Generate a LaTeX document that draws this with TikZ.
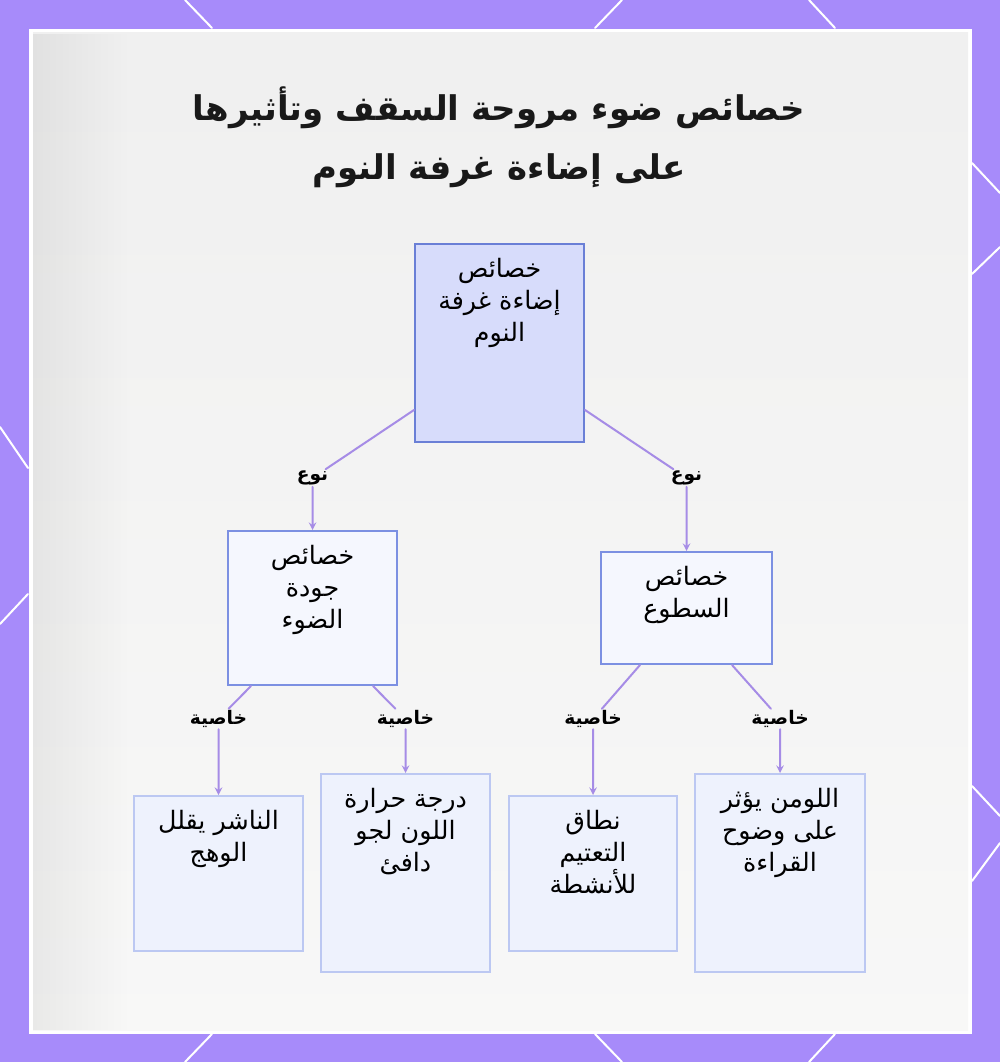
\documentclass[tikz,border=0pt]{standalone}
\usepackage{fontspec}
\setmainfont{DejaVu Sans}
\newfontfamily\arabicfont[Script=Arabic]{DejaVu Sans}
\TeXXeTstate=1
\usetikzlibrary{positioning,fadings}

\definecolor{framepurple}{HTML}{A78BFA}
\definecolor{panelgray}{HTML}{F3F3F2}
\definecolor{edgepurple}{HTML}{A68CE6}
\definecolor{rootfill}{HTML}{D7DCFB}
\definecolor{rootline}{HTML}{6A7FD6}
\definecolor{midfill}{HTML}{F5F7FE}
\definecolor{midline}{HTML}{7C90E2}
\definecolor{leaffill}{HTML}{EEF2FD}
\definecolor{leafline}{HTML}{BCC8F2}

\tikzset{
  boxwh/.style 2 args={minimum width=#1*0.75pt, minimum height=#2*0.75pt},
  boxtext/.style={label={[anchor=north, yshift=-8pt, align=center,
      font=\arabicfont\fontsize{19}{24}\selectfont]north:{#1}}},
  rootbox/.style={draw=rootline, fill=rootfill, line width=1.5pt, inner sep=0pt},
  midbox/.style={draw=midline, fill=midfill, line width=1.5pt, inner sep=0pt},
  leafbox/.style={draw=leafline, fill=leaffill, line width=1.5pt, inner sep=0pt},
  kind/.style={font=\arabicfont\bfseries\fontsize{14}{16}\selectfont, inner sep=1pt},
  edge/.style={draw=edgepurple, line width=1.5pt, ->}
}

\begin{document}
\begin{tikzpicture}[x=0.75pt, y=-0.75pt, >=stealth, line cap=round]
\useasboundingbox (0,0) rectangle (1000,1062);
\fill [framepurple] (0,0) rectangle (1000,1062);
\foreach \xa/\ya/\xb/\yb in {185/0/212/28, 622/0/595/28, 809/0/835/28,
    185/1062/212/1034, 622/1062/595/1034, 809/1062/835/1034,
    972/163/1000/193, 1000/247/972/274, 972/786/1000/816, 1000/843/972/881,
    0/427/28/468, 28/594/0/624}
  \draw [white, line width=1.5pt] (\xa,\ya) -- (\xb,\yb);
\fill [white] (29,29) rectangle (972,1034);
\shade [top color=black!6, bottom color=white!40!panelgray] (33,33) rectangle (968,1030);
\fill [black, opacity=0.06, path fading=east] (33,33) rectangle (130,1030);

\node [font=\arabicfont\bfseries\fontsize{25.5}{44}\selectfont, align=center, text=black!90]
  (title) at (499,137) {\beginR خصائص ضوء مروحة السقف وتأثيرها\endR\\ \beginR على إضاءة غرفة النوم\endR};

\node [rootbox, boxwh={169}{198}, boxtext={\beginR خصائص\endR\\ \beginR إضاءة غرفة\endR\\ \beginR النوم\endR}]
  (root) at (499.5,343) {};
\node [midbox, boxwh={169}{154}, boxtext={\beginR خصائص\endR\\ \beginR جودة\endR\\ \beginR الضوء\endR}]
  (quality) at (312.5,608) {};
\node [midbox, boxwh={171}{112}, boxtext={\beginR خصائص\endR\\ \beginR السطوع\endR}]
  (bright) at (686.5,608) {};

\node [leafbox, boxwh={169}{155}, boxtext={\beginR الناشر يقلل\endR\\ \beginR الوهج\endR}]
  (diffuser) at (218.5,873.5) {};
\node [leafbox, boxwh={169}{198}, boxtext={\beginR درجة حرارة\endR\\ \beginR اللون لجو\endR\\ \beginR دافئ\endR}]
  (colortemp) at (405.5,873) {};
\node [leafbox, boxwh={168}{155}, boxtext={\beginR نطاق\endR\\ \beginR التعتيم\endR\\ \beginR للأنشطة\endR}]
  (dimming) at (593,873.5) {};
\node [leafbox, boxwh={170}{198}, boxtext={\beginR اللومن يؤثر\endR\\ \beginR على وضوح\endR\\ \beginR القراءة\endR}]
  (lumen) at (780,873) {};

\node [kind] (kq) at (312.5,478) {\beginR نوع\endR};
\node [kind] (kb) at (686.5,478) {\beginR نوع\endR};
\node [kind] (kd) at (218.5,719) {\beginR خاصية\endR};
\node [kind] (kc) at (405.5,719) {\beginR خاصية\endR};
\node [kind] (kt) at (593,719) {\beginR خاصية\endR};
\node [kind] (kl) at (780,719) {\beginR خاصية\endR};

\draw [edge] ([yshift=24.75pt]root.south west) -- (kq) -- (quality.north);
\draw [edge] ([yshift=24.75pt]root.south east) -- (kb) -- (bright.north);
\draw [edge] ([xshift=18pt]quality.south west) -- (kd) -- (diffuser.north);
\draw [edge] ([xshift=-18.75pt]quality.south east) -- (kc) -- (colortemp.north);
\draw [edge] ([xshift=30pt]bright.south west) -- (kt) -- (dimming.north);
\draw [edge] ([xshift=-30.75pt]bright.south east) -- (kl) -- (lumen.north);
\end{tikzpicture}
\end{document}
